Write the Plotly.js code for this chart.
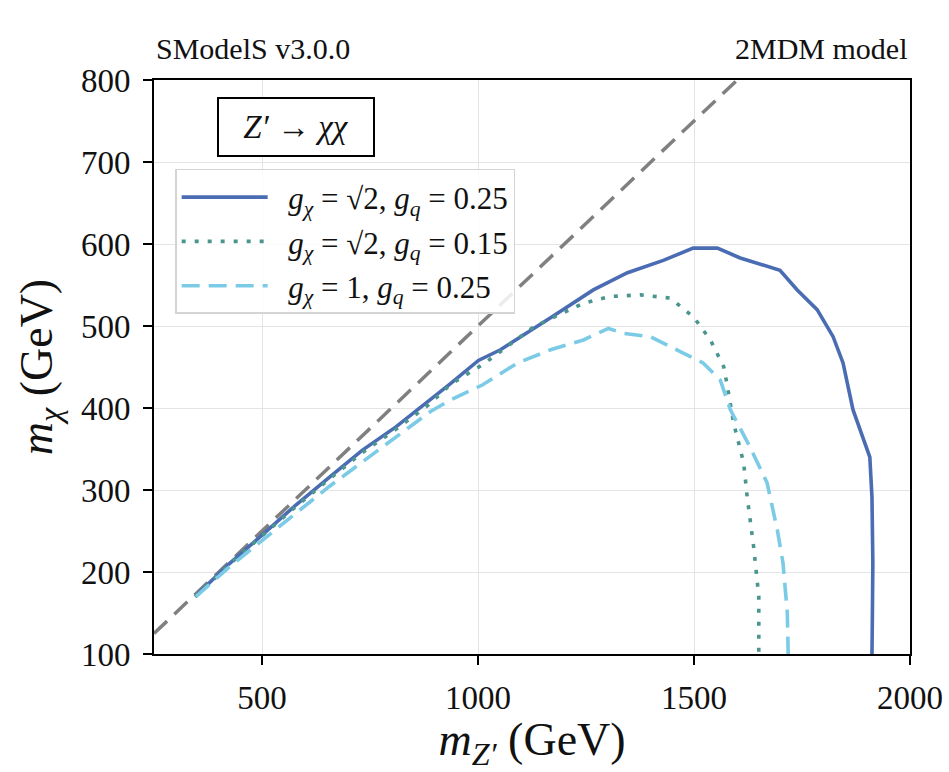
<!DOCTYPE html>
<html>
<head>
<meta charset="utf-8">
<script src="https://cdn.plot.ly/plotly-3.0.1.min.js"></script>
<style>html,body{margin:0;padding:0;background:#fff;}#chart{width:949px;height:772px;}</style>
</head>
<body>
<div id="chart"></div>
<script>
// Diagonal m_chi = m_Z'/2
const diagX = [250, 1600];
const diagY = [125, 800];

// g_chi = sqrt2, g_q = 0.25
const solidX = [345, 424, 500, 579, 655, 731, 810, 886, 937, 1001, 1052, 1168, 1267, 1346, 1429, 1498, 1554, 1607, 1660, 1699, 1739, 1785, 1822, 1845, 1868, 1907, 1912, 1914, 1913, 1912];
const solidY = [170, 210, 245, 282, 315, 348, 377, 408, 430, 458, 471, 510, 544, 565, 580, 595, 595, 583, 574, 568, 544, 520, 487, 455, 398, 340, 291, 211, 150, 100];

// g_chi = sqrt2, g_q = 0.15
const dotX = [345, 424, 500, 579, 655, 731, 810, 886, 937, 1014, 1129, 1245, 1307, 1376, 1445, 1499, 1538, 1569, 1576, 1592, 1615, 1623, 1638, 1650, 1650];
const dotY = [170, 209, 244, 280, 313, 345, 374, 404, 429, 454, 499, 528, 536, 538, 534, 511, 483, 450, 430, 381, 333, 292, 231, 170, 100];

// g_chi = 1, g_q = 0.25
const dashX = [347, 424, 539, 655, 770, 891, 937, 1010, 1092, 1168, 1244, 1302, 1337, 1399, 1475, 1521, 1561, 1584, 1630, 1669, 1693, 1706, 1716, 1718];
const dashY = [170, 206, 255, 304, 349, 396, 410, 428, 455, 471, 483, 497, 491, 487, 467, 455, 434, 398, 352, 309, 251, 211, 150, 100];

const legendNames = [
  '\u2002<i>g</i><sub><i>χ</i></sub> = √2, <i>g</i><sub><i>q</i></sub> = 0.25',
  '\u2002<i>g</i><sub><i>χ</i></sub> = √2, <i>g</i><sub><i>q</i></sub> = 0.15',
  '\u2002<i>g</i><sub><i>χ</i></sub> = 1, <i>g</i><sub><i>q</i></sub> = 0.25'
];

const xTicks = [500, 1000, 1500, 2000];
const yTicks = [100, 200, 300, 400, 500, 600, 700, 800];

const serif = 'Liberation Serif, DejaVu Serif, serif';

const traces = [
  {x: diagX, y: diagY, mode: 'lines', showlegend: false, hoverinfo: 'skip',
   line: {color: '#808080', width: 3.5, dash: '18px,10px'}},
  {x: solidX, y: solidY, mode: 'lines', name: legendNames[0], legendgroup: 'a',
   line: {color: '#4a6cb3', width: 3.6}},
  {x: dotX, y: dotY, mode: 'lines', name: legendNames[1], legendgroup: 'b',
   line: {color: '#4b958f', width: 3.6, dash: '4px,9px'}},
  {x: dashX, y: dashY, mode: 'lines', name: legendNames[2], legendgroup: 'c',
   line: {color: '#7ccbe6', width: 3.6, dash: '18px,9px'}}
];

const axisCommon = {
  showgrid: true, gridcolor: '#e4e4e4', gridwidth: 1,
  showline: true, linecolor: '#000', linewidth: 2, mirror: true,
  ticks: 'outside', ticklen: 9, tickwidth: 2, tickcolor: '#000',
  zeroline: false, tickfont: {family: serif, size: 33, color: '#111'},
  automargin: false
};

const layout = {
  width: 949, height: 772,
  paper_bgcolor: '#ffffff', plot_bgcolor: '#ffffff',
  margin: {l: 154, r: 39, t: 80, b: 118},
  font: {family: serif, color: '#111', size: 28},
  xaxis: Object.assign({}, axisCommon, {
    range: [250, 2000], tickvals: xTicks, ticktext: xTicks.map(String),
    ticklabelstandoff: 4,
    title: {text: '<i>m</i><sub><i>Z′</i></sub> (GeV)', font: {family: serif, size: 46, color: '#111'}, standoff: 2}
  }),
  yaxis: Object.assign({}, axisCommon, {
    range: [100, 800], tickvals: yTicks, ticktext: yTicks.map(String),
    ticklabelstandoff: 6,
    title: {text: '<i>m</i><sub><i>χ</i></sub> (GeV)', font: {family: serif, size: 46, color: '#111'}, standoff: 14}
  }),
  legend: {
    x: 0.028, y: 0.845, xanchor: 'left', yanchor: 'top',
    bgcolor: 'rgba(255,255,255,0.85)', bordercolor: '#d4d4d4', borderwidth: 1.5,
    font: {family: serif, size: 31, color: '#111'},
    traceorder: 'grouped', tracegroupgap: 1, itemwidth: 86
  },
  annotations: [
    {xref: 'paper', yref: 'paper', x: 0, y: 1, xanchor: 'left', yanchor: 'bottom', yshift: 13,
     text: 'SModelS v3.0.0', showarrow: false, font: {family: serif, size: 30, color: '#111'}},
    {xref: 'paper', yref: 'paper', x: 1, y: 1, xanchor: 'right', yanchor: 'bottom', yshift: 13,
     text: '2MDM model', showarrow: false, font: {family: serif, size: 30, color: '#111'}},
    {xref: 'paper', yref: 'paper', x: 0.188, y: 0.918, xanchor: 'center', yanchor: 'middle',
     text: '<i>Z′</i> → <i>χχ</i>', showarrow: false, font: {family: serif, size: 33, color: '#111'},
     width: 140, height: 42, align: 'center',
     bordercolor: '#000', borderwidth: 2, borderpad: 7, bgcolor: '#fff'}
  ]
};

Plotly.newPlot('chart', traces, layout, {displayModeBar: false, staticPlot: true});
</script>
</body>
</html>
